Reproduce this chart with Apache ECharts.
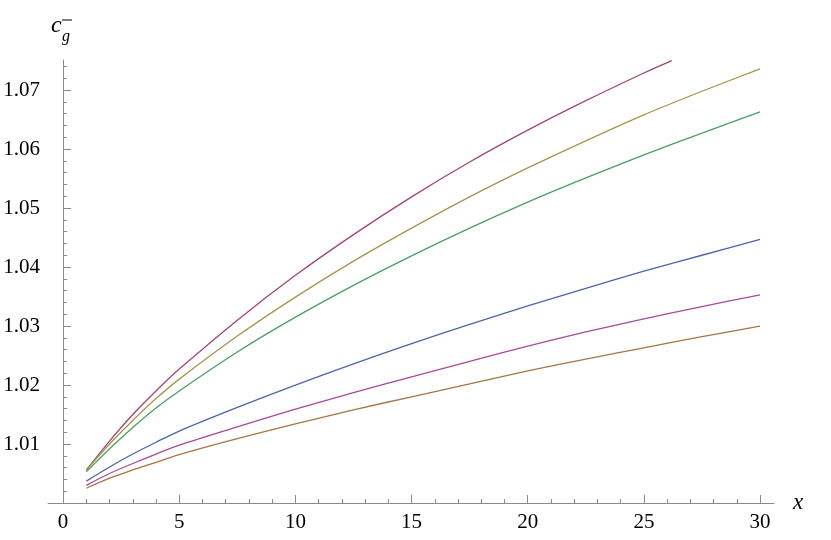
<!DOCTYPE html>
<html>
<head>
<meta charset="utf-8">
<script src="https://cdn.jsdelivr.net/npm/echarts@6/dist/echarts.min.js"></script>
<style>
  html, body { margin: 0; padding: 0; background: #fff; }
  #main { width: 831px; height: 540px; }
</style>
</head>
<body>
<div id="main"></div>
<script>
// sample positions along x (top curve stops early)
const xs = [1, 2, 3, 4, 5, 7.5, 10, 12.5, 15, 17.5, 20, 22.5, 25, 27.5, 30]
const xsTop = [1, 2, 3, 4, 5, 7.5, 10, 12.5, 15, 17.5, 20, 22.5, 25, 26.2]

// curve values
const maroon = [1.0056, 1.0105, 1.0150, 1.0190, 1.0227, 1.0310, 1.0386, 1.0455, 1.0519, 1.0578, 1.0632, 1.0682, 1.0729, 1.0750]
const gold = [1.0056, 1.0100, 1.0140, 1.0177, 1.0210, 1.0283, 1.0349, 1.0410, 1.0466, 1.0519, 1.0568, 1.0614, 1.0658, 1.0698, 1.0736]
const green = [1.0053, 1.0092, 1.0128, 1.0161, 1.0190, 1.0256, 1.0315, 1.0369, 1.0419, 1.0466, 1.0510, 1.0551, 1.0590, 1.0627, 1.0663]
const blue = [1.0037, 1.0061, 1.0083, 1.0103, 1.0122, 1.0162, 1.0200, 1.0236, 1.0270, 1.0303, 1.0334, 1.0364, 1.0393, 1.0420, 1.0447]
const magenta = [1.0030, 1.0050, 1.0067, 1.0083, 1.0098, 1.0129, 1.0159, 1.0187, 1.0214, 1.0240, 1.0266, 1.0290, 1.0312, 1.0333, 1.0353]
const brown = [1.0025, 1.0042, 1.0056, 1.0069, 1.0082, 1.0109, 1.0134, 1.0158, 1.0180, 1.0202, 1.0224, 1.0244, 1.0263, 1.0282, 1.0300]

// ticks
const xMajor = [0, 5, 10, 15, 20, 25, 30]
const xMinor = [1, 2, 3, 4, 6, 7, 8, 9, 11, 12, 13, 14, 16, 17, 18, 19, 21, 22, 23, 24, 26, 27, 28, 29]
const yMajor = [1.00, 1.01, 1.02, 1.03, 1.04, 1.05, 1.06, 1.07]
const yLabels = [1.01, 1.02, 1.03, 1.04, 1.05, 1.06, 1.07]
const yMinor = [1.002, 1.004, 1.006, 1.008, 1.012, 1.014, 1.016, 1.018, 1.022, 1.024, 1.026, 1.028,
  1.032, 1.034, 1.036, 1.038, 1.042, 1.044, 1.046, 1.048, 1.052, 1.054, 1.056, 1.058,
  1.062, 1.064, 1.066, 1.068, 1.072, 1.074]

const axisGrey = '#8c8c8c'
const serif = 'Liberation Serif'

function pairs(xv, yv) {
  return yv.map((v, i) => [xv[i], v])
}

function line(name, color, xv, yv) {
  return {
    name: name,
    type: 'line',
    data: pairs(xv, yv),
    smooth: 0.3,
    showSymbol: false,
    lineStyle: { color: color, width: 1.3 },
    animation: false
  }
}

const myChart = echarts.init(document.getElementById('main'))
const option = {
  backgroundColor: '#fff',
  animation: false,
  grid: { left: 48, right: 57, top: 60, bottom: 37 },
  xAxis: [
    {
      type: 'value',
      min: -0.65,
      max: 30.6,
      name: 'x',
      nameLocation: 'end',
      nameGap: 19,
      nameTextStyle: { fontFamily: serif, fontStyle: 'italic', fontSize: 23, color: '#000', padding: [6, 0, 0, 0] },
      axisLine: { lineStyle: { color: axisGrey, width: 1 } },
      axisTick: { inside: true, length: 8, customValues: xMajor, lineStyle: { color: axisGrey } },
      axisLabel: { customValues: xMajor, margin: 9, fontFamily: serif, fontSize: 21, color: '#000' },
      splitLine: { show: false }
    },
    {
      type: 'value',
      position: 'bottom',
      min: -0.65,
      max: 30.6,
      axisLine: { show: false },
      axisTick: { inside: true, length: 4, customValues: xMinor, lineStyle: { color: axisGrey } },
      axisLabel: { show: false },
      splitLine: { show: false }
    }
  ],
  yAxis: [
    {
      type: 'value',
      min: 1.0,
      max: 1.0751,
      axisLine: { onZero: true, lineStyle: { color: axisGrey, width: 1 } },
      axisTick: { inside: true, length: 8, customValues: yMajor, lineStyle: { color: axisGrey } },
      axisLabel: {
        customValues: yLabels,
        margin: 8,
        fontFamily: serif,
        fontSize: 21,
        color: '#000',
        formatter: v => v.toFixed(2)
      },
      splitLine: { show: false }
    },
    {
      type: 'value',
      position: 'left',
      min: 1.0,
      max: 1.0751,
      axisLine: { show: false, onZero: true },
      axisTick: { inside: true, length: 4, customValues: yMinor, lineStyle: { color: axisGrey } },
      axisLabel: { show: false },
      splitLine: { show: false }
    }
  ],
  graphic: [
    { type: 'text', left: 51, top: 14, style: { text: 'c', font: 'italic 24px ' + serif, fill: '#000' } },
    { type: 'text', left: 62, top: 29, style: { text: 'g', font: 'italic 16px ' + serif, fill: '#000' } },
    { type: 'line', shape: { x1: 62, y1: 20, x2: 72, y2: 20 }, style: { stroke: '#000', lineWidth: 1 } }
  ],
  series: [
    line('maroon', '#a2447a', xsTop, maroon),
    line('gold', '#a8944a', xs, gold),
    line('green', '#48a062', xs, green),
    line('blue', '#4a66aa', xs, blue),
    line('magenta', '#aa479e', xs, magenta),
    line('brown', '#a87545', xs, brown)
  ]
}
myChart.setOption(option)
</script>
</body>
</html>
